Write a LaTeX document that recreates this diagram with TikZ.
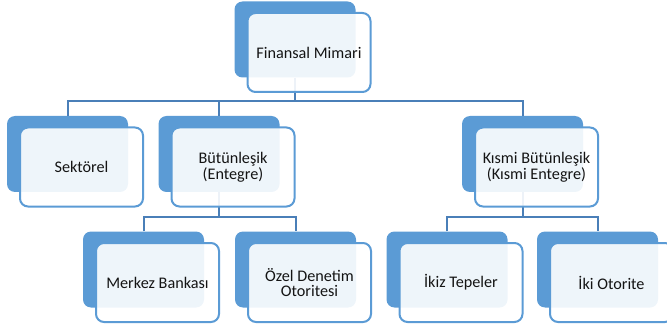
\documentclass[tikz,border=0pt]{standalone}
\usepackage{fontspec}
\setmainfont{Carlito}
\definecolor{accent}{HTML}{5B9BD5}
\definecolor{linkblue}{HTML}{4A7FB8}
\definecolor{txt}{HTML}{141414}
\begin{document}
\begin{tikzpicture}[x=1pt,y=-1pt,
  backbox/.style={fill=accent, rounded corners=8pt, minimum width=121pt, minimum height=76pt, inner sep=0pt},
  frontbox/.style={draw=accent, line width=2pt, fill=white, fill opacity=0.9, text opacity=1,
    rounded corners=8pt, minimum width=123pt, minimum height=79pt, inner sep=2pt,
    align=center, text=txt, font=\fontsize{16.2}{15.8}\selectfont},
  link/.style={draw=linkblue, line width=2pt}]
\useasboundingbox (0,0) rectangle (667,326);

% back tiles
\node[backbox] (topb) at (295,39.5) {};
\node[backbox] (sekb) at (67.5,154) {};
\node[backbox] (butb) at (219,154) {};
\node[backbox] (kisb) at (522.5,154) {};
\node[backbox] (merb) at (143.5,269.5) {};
\node[backbox] (ozeb) at (295.5,269.5) {};
\node[backbox] (ikzb) at (447,269.5) {};
\node[backbox] (ikob) at (597.5,269.5) {};

% bus lines of the hierarchy
\coordinate (bus1) at (0,101);
\coordinate (bus2) at (0,217);
\draw[link] (topb.south) -- (topb.south |- bus1);
\draw[link] (sekb.north) |- (kisb.north |- bus1) -- (kisb.north);
\draw[link] (butb.north) -- (butb.north |- bus1);
\draw[link] (butb.south) -- (butb.south |- bus2);
\draw[link] (merb.north) |- (ozeb.north |- bus2) -- (ozeb.north);
\draw[link] (kisb.south) -- (kisb.south |- bus2);
\draw[link] (ikzb.north) |- (ikob.north |- bus2) -- (ikob.north);

% front cards with labels
\node[frontbox] (topf) at ([shift={(14pt,-13pt)}]topb.center) {Finansal Mimari};
\node[frontbox] (sekf) at ([shift={(14pt,-13pt)}]sekb.center) {Sektörel};
\node[frontbox] (butf) at ([shift={(14pt,-13pt)}]butb.center) {Bütünleşik\\(Entegre)};
\node[frontbox] (kisf) at ([shift={(14pt,-13pt)}]kisb.center) {Kısmi Bütünleşik\\(Kısmi Entegre)};
\node[frontbox] (merf) at ([shift={(14pt,-13pt)}]merb.center) {Merkez Bankası};
\node[frontbox] (ozef) at ([shift={(14pt,-13pt)}]ozeb.center) {Özel Denetim\\Otoritesi};
\node[frontbox] (ikzf) at ([shift={(14pt,-13pt)}]ikzb.center) {İkiz Tepeler};
\node[frontbox] (ikof) at ([shift={(14pt,-13pt)}]ikob.center) {İki Otorite};
\end{tikzpicture}
\end{document}
